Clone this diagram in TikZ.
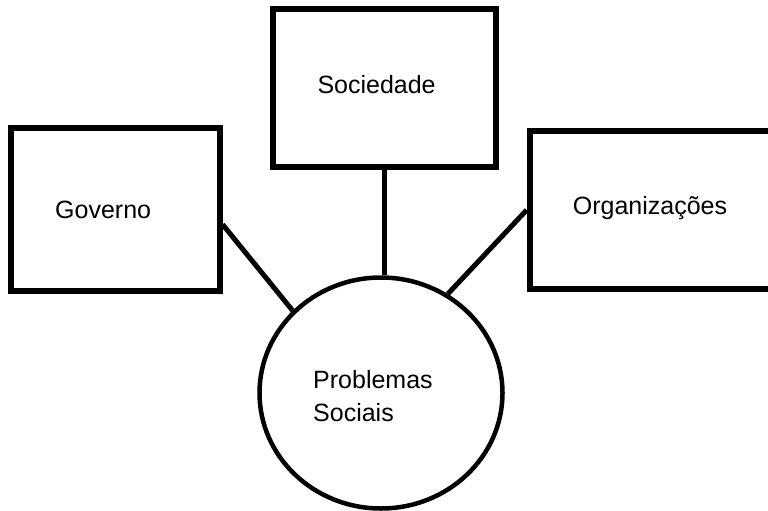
\documentclass[tikz,border=0pt]{standalone}
\usepackage{fontspec}
\setmainfont{Liberation Sans}
\usetikzlibrary{shapes.geometric}

\tikzset{every node/.style={font=\fontsize{25}{33.5}\selectfont}}
\tikzstyle{caixa}=[draw, rectangle, line width=6pt, inner sep=0pt]
\tikzstyle{bola}=[draw, ellipse, line width=4.5pt, inner sep=0pt, minimum width=243pt, minimum height=231pt]
\tikzstyle{rotulo}=[anchor=base west, inner sep=0pt]
\tikzstyle{ligacao}=[line width=5pt]

\begin{document}
\begin{tikzpicture}[x=1pt, y=-1pt]
  \useasboundingbox (0,0) rectangle (768,511);
  % caixas
  \node [caixa, minimum width=223pt, minimum height=158pt] (soc) at (384.5,88) {};
  \node [caixa, minimum width=209pt, minimum height=163.5pt] (gov) at (115,209.25) {};
  \node [caixa, minimum width=260.3pt, minimum height=157.4pt] (org) at (659.85,210) {};
  \node [bola] (prob) at (381,393) {};
  % textos
  \node [rotulo] (soctxt) at (317.3,93.3) {Sociedade};
  \node [rotulo] (govtxt) at (55,218.3) {Governo};
  \node [rotulo] (orgtxt) at (572.7,214) {Organizações};
  \node [rotulo] (probtxt) at (313,388.3) {Problemas};
  \node [rotulo] (soctxtb) at (313,421.7) {Sociais};
  % ligacoes
  \draw [ligacao] (gov.-8.7) -- (prob.137.7);
  \draw [ligacao] (soc.south) -- (soc.south |- prob.north);
  \draw [ligacao] (org.west) -- (prob.56.2);
\end{tikzpicture}
\end{document}
